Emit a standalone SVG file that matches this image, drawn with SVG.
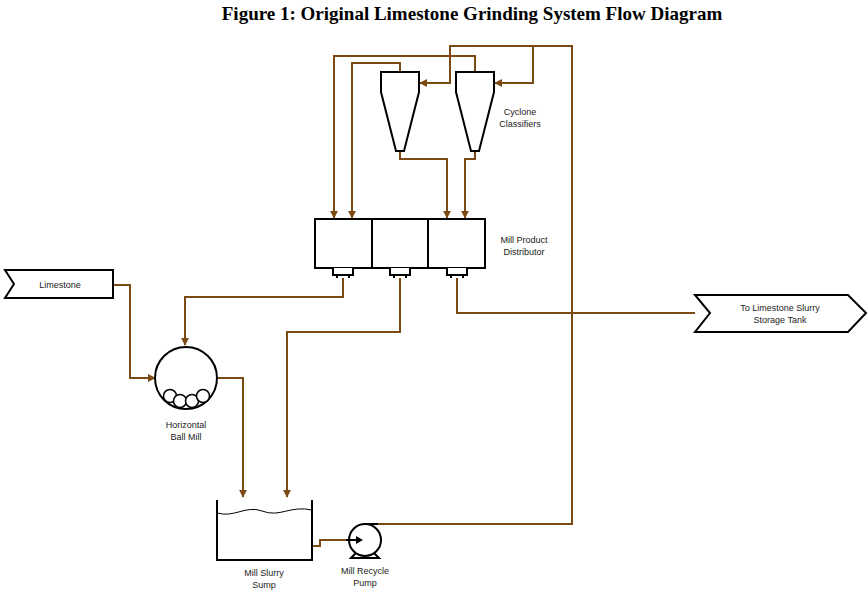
<svg xmlns="http://www.w3.org/2000/svg" width="868" height="595" viewBox="0 0 868 595">
<defs>
<style>
.p{fill:none;stroke:#7a4a12;stroke-width:2}
.e{fill:#fff;stroke:#000;stroke-width:2}
.t{font-family:"Liberation Sans",Arial,sans-serif;font-size:9px;fill:#222;text-anchor:middle}
</style>
<marker id="a" viewBox="0 0 10 10" refX="9" refY="5" markerWidth="4" markerHeight="4" orient="auto"><path d="M0,0L10,5L0,10z" fill="#7a4a12"/></marker>
</defs>
<rect width="868" height="595" fill="#fff"/>
<text x="472" y="20" font-family="Liberation Serif,serif" font-weight="bold" font-size="19" text-anchor="middle">Figure 1: Original Limestone Grinding System Flow Diagram</text>
<g id="connectors">
<path class="p" d="M400,72V63H352V218" marker-end="url(#a)"/>
<path class="p" d="M475,72V56H334V218" marker-end="url(#a)"/>
<path class="p" d="M378,524H572V46H450V83H420" marker-end="url(#a)"/>
<path class="p" d="M533,46V83H495" marker-end="url(#a)"/>
<path class="p" d="M400,151V159H447V218" marker-end="url(#a)"/>
<path class="p" d="M475,151V159H465V218" marker-end="url(#a)"/>
<path class="p" d="M343,278V297H185V345" marker-end="url(#a)"/>
<path class="p" d="M400,278V332H287V497" marker-end="url(#a)"/>
<path class="p" d="M457,278V313H695"/>
<path class="p" d="M113,285H130V378H155" marker-end="url(#a)"/>
<path class="p" d="M218,378H243V497" marker-end="url(#a)"/>
<path class="p" d="M312,546H320V540H346"/>
</g>
<g id="limestone"><path class="e" stroke-width="1.2" d="M5,270H113V298H5L14,284z"/><text class="t" x="60" y="288">Limestone</text></g>
<g id="tank"><path class="e" stroke-width="1.2" d="M695,295H848L866,313L848,332H695L710,313z"/><text class="t" x="780" y="311">To Limestone Slurry</text><text class="t" x="780" y="323">Storage Tank</text></g>
<g id="cyclone1"><path class="e" d="M381,72H419V92L404,151H396L381,92z"/></g>
<g id="cyclone2"><path class="e" d="M456,72H494V92L479,151H471L456,92z"/></g>
<text class="t" x="520" y="115">Cyclone</text><text class="t" x="520" y="127">Classifiers</text>
<g id="distributor">
<rect class="e" x="315" y="219" width="170" height="49"/>
<path class="e" d="M372,219V268M428,219V268"/>
<path class="e" stroke-width="1.5" d="M333,268V275H353V268M337,275V278M349,275V278M390,268V275H410V268M394,275V278M406,275V278M447,268V275H467V268M451,275V278M463,275V278"/>
<text class="t" x="524" y="243">Mill Product</text><text class="t" x="524" y="255">Distributor</text>
</g>
<g id="mill">
<circle class="e" cx="186" cy="378" r="31"/>
<g fill="#fff" stroke="#000" stroke-width="1.5"><circle cx="170" cy="396" r="6.5"/><circle cx="180" cy="401" r="6.5"/><circle cx="192" cy="401" r="6.5"/><circle cx="203" cy="396" r="6.5"/></g>
<text class="t" x="186" y="428">Horizontal</text><text class="t" x="186" y="440">Ball Mill</text>
</g>
<g id="sump">
<path class="e" fill="none" d="M217,500V560H312V500"/>
<path fill="none" stroke="#000" d="M217,513C235,518 245,505 262,511C280,518 290,505 312,510"/>
<text class="t" x="264" y="576">Mill Slurry</text><text class="t" x="264" y="588">Sump</text>
</g>
<g id="pump">
<path class="e" d="M356,553L351,558H379L374,553"/>
<circle class="e" cx="365" cy="540" r="16"/>
<path class="e" d="M365,524H378"/>
<path stroke="#000" stroke-width="2" d="M346,540H358"/><path d="M356,536L363,540L356,544z"/>
<text class="t" x="365" y="574">Mill Recycle</text><text class="t" x="365" y="586">Pump</text>
</g>
</svg>
